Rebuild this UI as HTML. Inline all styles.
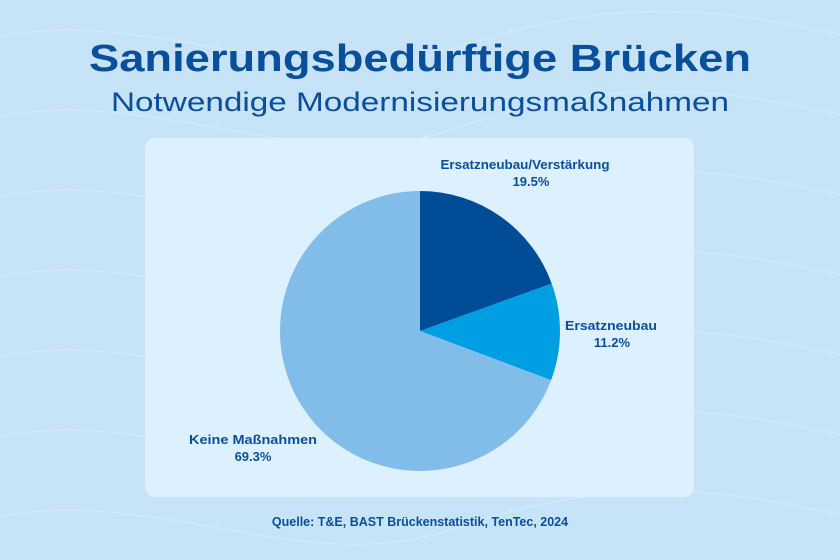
<!DOCTYPE html>
<html><head><meta charset="utf-8"><style>html,body{margin:0;padding:0;background:#c7e4f8}svg{display:block}</style></head>
<body>
<svg width="840" height="560" viewBox="0 0 840 560" xmlns="http://www.w3.org/2000/svg" font-family="Liberation Sans, sans-serif">
<rect width="840" height="560" fill="#c6e3f8"/>
<g fill="none" stroke="#d9eefb" stroke-width="1" opacity="0.8">
<path d="M-20 40 C150 0 300 100 450 50 S700 0 860 40"/>
<path d="M-20 120 C150 80 300 180 450 130 S700 80 860 120"/>
<path d="M-20 200 C150 160 300 260 450 210 S700 160 860 200"/>
<path d="M-20 280 C150 240 300 340 450 290 S700 240 860 280"/>
<path d="M-20 360 C150 320 300 420 450 370 S700 320 860 360"/>
<path d="M-20 440 C150 400 300 500 450 450 S700 400 860 440"/>
<path d="M-20 520 C150 480 300 580 450 530 S700 480 860 520"/>
</g>
<text x="420" y="71" text-anchor="middle" font-size="38" font-weight="bold" fill="#0a4f9c" textLength="662" lengthAdjust="spacingAndGlyphs">Sanierungsbedürftige Brücken</text>
<text x="420" y="111" text-anchor="middle" font-size="27" fill="#0a4f9c" textLength="618" lengthAdjust="spacingAndGlyphs">Notwendige Modernisierungsmaßnahmen</text>
<rect x="145" y="138" width="549" height="359" rx="10" fill="#dcf0fd"/>
<path d="M420 331 L420 191 A140 140 0 0 1 551.7 283.6 Z" fill="#004c97"/>
<path d="M420 331 L551.7 283.6 A140 140 0 0 1 551.1 380.1 Z" fill="#009fe3"/>
<path d="M420 331 L551.1 380.1 A140 140 0 1 1 420 191 Z" fill="#82bde9"/>
<g font-size="13" font-weight="bold" fill="#0a4f9c" text-anchor="middle">
<text x="525" y="169" textLength="169" lengthAdjust="spacingAndGlyphs">Ersatzneubau/Verstärkung</text>
<text x="531" y="186">19.5%</text>
<text x="611" y="330" textLength="92" lengthAdjust="spacingAndGlyphs">Ersatzneubau</text>
<text x="612" y="347">11.2%</text>
<text x="253" y="444" textLength="128" lengthAdjust="spacingAndGlyphs">Keine Maßnahmen</text>
<text x="253" y="461">69.3%</text>
</g>
<text x="420" y="526" text-anchor="middle" font-size="12.5" font-weight="bold" fill="#0a4f9c">Quelle: T&amp;E, BAST Brückenstatistik, TenTec, 2024</text>
</svg>
</body></html>
